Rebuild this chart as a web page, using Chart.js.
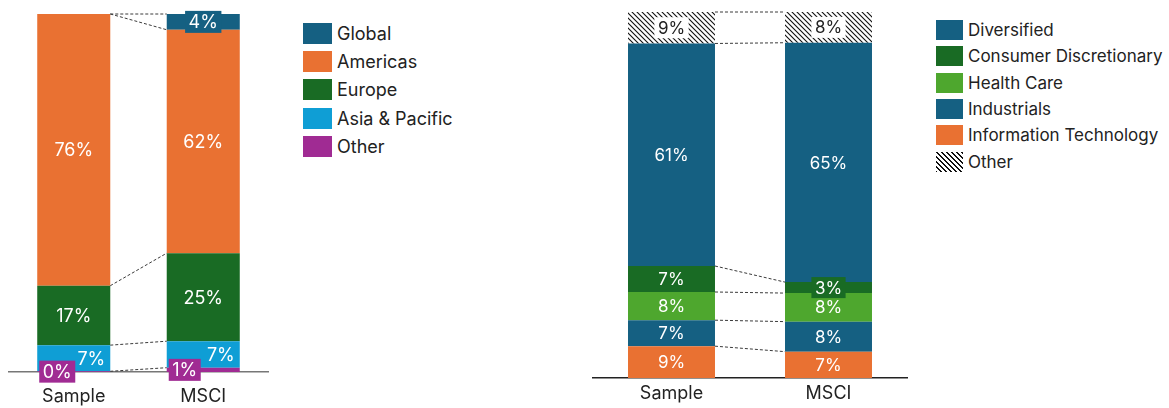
<!DOCTYPE html>
<html>
<head>
<meta charset="utf-8">
<script src="https://cdn.jsdelivr.net/npm/chart.js@4"></script>
<style>
  body { margin: 0; background: #fff; width: 1169px; height: 408px; position: relative; overflow: hidden; font-family: Inter, "Open Sans", sans-serif; }
  canvas { position: absolute; top: 0; }
  #regionChart { left: 0; }
  #sectorChart { left: 580px; }
  .legend { position: absolute; color: #222; }
  .legend .row { display: flex; align-items: center; }
  .legend .box { flex: none; }
  #regionLegend { left: 303px; top: 19px; font-size: 18px; }
  #regionLegend .row { height: 28.3px; }
  #regionLegend .box { width: 29px; height: 21px; margin-right: 5px; }
  #sectorLegend { left: 936px; top: 17px; font-size: 17px; }
  #sectorLegend .row { height: 26.3px; }
  #sectorLegend .box { width: 27px; height: 20px; margin-right: 5px; }
</style>
</head>
<body>
<canvas id="regionChart" width="290" height="408"></canvas>
<div class="legend" id="regionLegend"></div>
<canvas id="sectorChart" width="340" height="408"></canvas>
<div class="legend" id="sectorLegend"></div>

<script>
// categories
const categories = ["Sample", "MSCI"];

// regional split (% of total), bottom to top
const regionNames = ["Other", "Asia & Pacific", "Europe", "Americas", "Global"];
const regionOther = [0.2, 1.2];
const regionAsiaPacific = [7.3, 7.4];
const regionEurope = [16.6, 24.6];
const regionAmericas = [75.9, 62.4];
const regionGlobal = [null, 4.4];

// sector split (% of total), bottom to top
const sectorNames = ["Information Technology", "Industrials", "Health Care", "Consumer Discretionary", "Diversified", "Other"];
const sectorIT = [8.7, 7.2];
const sectorIndustrials = [7.1, 8.2];
const sectorHealthCare = [7.7, 7.8];
const sectorConsumerDisc = [7.1, 3.0];
const sectorDiversified = [60.8, 65.4];
const sectorOther = [8.6, 8.4];

// legend order (indexes into the name lists)
const regionLegendOrder = [4, 3, 2, 1, 0];
const sectorLegendOrder = [4, 3, 2, 1, 0, 5];

const BLUE = "#156082", ORANGE = "#E97132", DKGREEN = "#196B24",
      LTBLUE = "#0F9ED5", PURPLE = "#A02B93", GREEN = "#4EA72E";
const FONT = 'Inter, "Open Sans", sans-serif';

function hatchPattern() {
  const c = document.createElement("canvas");
  c.width = c.height = 5;
  const g = c.getContext("2d");
  g.fillStyle = "#fff";
  g.fillRect(0, 0, 5, 5);
  g.strokeStyle = "#111";
  g.lineWidth = 1.1;
  g.beginPath();
  g.moveTo(-1, -1); g.lineTo(6, 6);
  g.moveTo(-1, 4); g.lineTo(1, 6);
  g.moveTo(4, -1); g.lineTo(6, 1);
  g.stroke();
  return g.createPattern(c, "repeat");
}

// dashed lines joining the tops of matching segments
const seriesLines = {
  id: "seriesLines",
  afterDatasetsDraw(chart) {
    const { ctx, scales: { x, y } } = chart;
    const n = chart.data.labels.length;
    const w = chart.getDatasetMeta(0).data[0].width;
    const cum = new Array(n).fill(0);
    ctx.save();
    ctx.setLineDash([3, 2]);
    ctx.strokeStyle = "#3a3a3a";
    ctx.lineWidth = 1;
    chart.data.datasets.forEach(ds => {
      ds.data.forEach((v, j) => { cum[j] += v || 0; });
      for (let j = 0; j < n - 1; j++) {
        ctx.beginPath();
        ctx.moveTo(x.getPixelForValue(j) + w / 2, y.getPixelForValue(cum[j]));
        ctx.lineTo(x.getPixelForValue(j + 1) - w / 2, y.getPixelForValue(cum[j + 1]));
        ctx.stroke();
      }
    });
    ctx.restore();
  }
};

// value labels inside the segments
const segmentLabels = {
  id: "segmentLabels",
  afterDatasetsDraw(chart, args, opts) {
    const { ctx } = chart;
    ctx.save();
    ctx.font = opts.size + "px " + FONT;
    ctx.textBaseline = "middle";
    ctx.textAlign = "center";
    chart.data.datasets.forEach((ds, i) => {
      chart.getDatasetMeta(i).data.forEach((bar, j) => {
        const v = ds.data[j];
        if (v == null) return;
        const text = Math.round(v) + "%";
        const h = bar.base - bar.y;
        const cy = (bar.y + bar.base) / 2;
        const tw = ctx.measureText(text).width;
        const bw = tw + 7, bh = opts.size + 4;
        const align = ds.labelAlign || "center";
        let cx = bar.x;
        if (align === "left") cx = bar.x - bar.width / 2 + 2 + bw / 2;
        if (align === "right") cx = bar.x + bar.width / 2 - 5 - tw / 2;
        const boxed = ds.labelBox || h < opts.minHeight;
        if (boxed) {
          ctx.fillStyle = ds.labelBoxColor || ds.backgroundColor;
          ctx.fillRect(cx - bw / 2, cy - bh / 2, bw, bh);
        }
        ctx.fillStyle = ds.labelColor || "#fff";
        ctx.fillText(text, cx, cy + 1);
      });
    });
    ctx.restore();
  }
};

function makeChart(id, datasets, opts) {
  return new Chart(document.getElementById(id), {
    type: "bar",
    data: { labels: categories, datasets },
    options: {
      responsive: false,
      animation: false,
      layout: { padding: { left: opts.padL, right: opts.padR, top: opts.padT, bottom: 0 } },
      datasets: { bar: { categoryPercentage: 1, barPercentage: opts.barPct, borderWidth: 0 } },
      scales: {
        x: {
          stacked: true,
          grid: { display: false, drawTicks: false },
          border: { display: true, color: opts.axisColor, width: 1.5 },
          ticks: { color: "#222", font: { family: FONT, size: 18 }, padding: opts.tickPad },
          afterFit: s => { s.height = opts.axisH; }
        },
        y: { stacked: true, display: false, min: 0, max: 100 }
      },
      plugins: {
        legend: { display: false },
        tooltip: { enabled: false },
        segmentLabels: { size: opts.labelSize, minHeight: 20 }
      }
    },
    plugins: [seriesLines, segmentLabels]
  });
}

const hatch = hatchPattern();

const regionData = [regionOther, regionAsiaPacific, regionEurope, regionAmericas, regionGlobal];
const regionColors = [PURPLE, LTBLUE, DKGREEN, ORANGE, BLUE];
makeChart("regionChart", regionData.map((d, i) => ({
  label: regionNames[i],
  data: d,
  backgroundColor: regionColors[i],
  labelAlign: i === 0 ? "left" : i === 1 ? "right" : "center",
  labelBox: i === 0
})), { padL: 9, padR: 22, padT: 14, barPct: 0.564, axisH: 36, tickPad: 14, labelSize: 18, axisColor: "#777" });

const sectorData = [sectorIT, sectorIndustrials, sectorHealthCare, sectorConsumerDisc, sectorDiversified, sectorOther];
const sectorColors = [ORANGE, BLUE, GREEN, DKGREEN, BLUE, hatch];
makeChart("sectorChart", sectorData.map((d, i) => ({
  label: sectorNames[i],
  data: d,
  backgroundColor: sectorColors[i],
  labelBox: i === 5,
  labelBoxColor: i === 5 ? "#fff" : null,
  labelColor: i === 5 ? "#222" : "#fff"
})), { padL: 13, padR: 13, padT: 12, barPct: 0.554, axisH: 30, tickPad: 5, labelSize: 17, axisColor: "#222" });

function buildLegend(id, names, colors, order) {
  const el = document.getElementById(id);
  order.forEach(i => {
    const row = document.createElement("div");
    row.className = "row";
    const box = document.createElement("span");
    box.className = "box";
    box.style.background = colors[i] === hatch
      ? "repeating-linear-gradient(45deg, #111 0 1.1px, #fff 1.1px 3.5px)"
      : colors[i];
    const txt = document.createElement("span");
    txt.textContent = names[i];
    row.append(box, txt);
    el.append(row);
  });
}
buildLegend("regionLegend", regionNames, regionColors, regionLegendOrder);
buildLegend("sectorLegend", sectorNames, sectorColors, sectorLegendOrder);
</script>
</body>
</html>
